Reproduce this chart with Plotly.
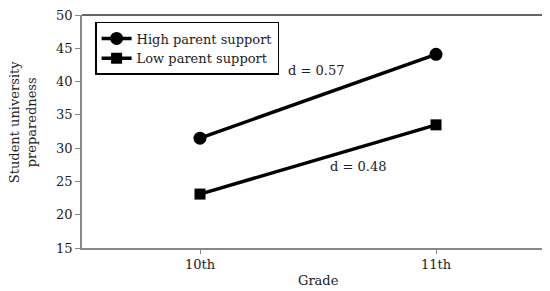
import plotly.graph_objects as go

grades = ["10th", "11th"]
high_support = [31.5, 44.1]
low_support = [23.1, 33.5]
y_ticks = [15, 20, 25, 30, 35, 40, 45, 50]
effect_labels = ["d = 0.57", "d = 0.48"]

font_family = "DejaVu Serif, Liberation Serif, serif"
fs = 13
xpos = list(range(len(grades)))

fig = go.Figure()
fig.add_trace(go.Scatter(
    x=xpos, y=high_support, name="High parent support", mode="lines+markers",
    line=dict(color="black", width=3.5),
    marker=dict(symbol="circle", size=13, color="black"),
))
fig.add_trace(go.Scatter(
    x=xpos, y=low_support, name="Low parent support", mode="lines+markers",
    line=dict(color="black", width=3.5),
    marker=dict(symbol="square", size=11, color="black"),
))

fig.add_annotation(x=0.49, y=41.6, xref="x", yref="y", text=effect_labels[0],
                   showarrow=False, xanchor="center", yanchor="middle",
                   font=dict(family=font_family, size=fs, color="#222"))
fig.add_annotation(x=0.67, y=27.2, xref="x", yref="y", text=effect_labels[1],
                   showarrow=False, xanchor="center", yanchor="middle",
                   font=dict(family=font_family, size=fs, color="#222"))

# axis titles
fig.add_annotation(x=0, xref="paper", y=0.54, yref="paper", xshift=-59,
                   text="Student university<br>preparedness", textangle=-90,
                   showarrow=False, xanchor="center", yanchor="middle",
                   font=dict(family=font_family, size=fs, color="#222"))
fig.add_annotation(x=0.5, xref="x", y=0, yref="paper", yshift=-32,
                   text="Grade", showarrow=False, xanchor="center", yanchor="middle",
                   font=dict(family=font_family, size=fs, color="#222"))

fig.add_shape(type="line", xref="paper", yref="paper", x0=0, x1=1, y0=1, y1=1,
              line=dict(color="#333", width=1.5), layer="above")

# page body has an 8px margin, so the figure is offset by (8, 8)
fig.update_layout(
    width=542, height=283,
    margin=dict(l=74, r=0, t=7, b=43),
    paper_bgcolor="white", plot_bgcolor="white",
    font=dict(family=font_family, size=fs, color="#222"),
    showlegend=True,
    legend=dict(x=0.028, y=0.97, xanchor="left", yanchor="top",
                bordercolor="black", borderwidth=1.5, bgcolor="white",
                font=dict(family=font_family, size=fs, color="#222"),
                tracegroupgap=0, itemwidth=30),
    xaxis=dict(
        range=[-0.5, 1.483], tickmode="array", tickvals=xpos, ticktext=grades,
        showgrid=False, zeroline=False, showline=True, linecolor="#888", linewidth=1.5,
        ticks="outside", ticklen=4, tickcolor="#888", automargin=False,
        tickfont=dict(family=font_family, size=fs, color="#222"),
    ),
    yaxis=dict(
        range=[15, 50.001], tickvals=y_ticks, showgrid=False, zeroline=False,
        showline=True, linecolor="#888", linewidth=1.5,
        ticks="outside", ticklen=5, tickcolor="#888", automargin=False,
        ticklabeloverflow="allow",
        tickfont=dict(family=font_family, size=fs, color="#222"),
    ),
)

fig.write_html("out.html")
